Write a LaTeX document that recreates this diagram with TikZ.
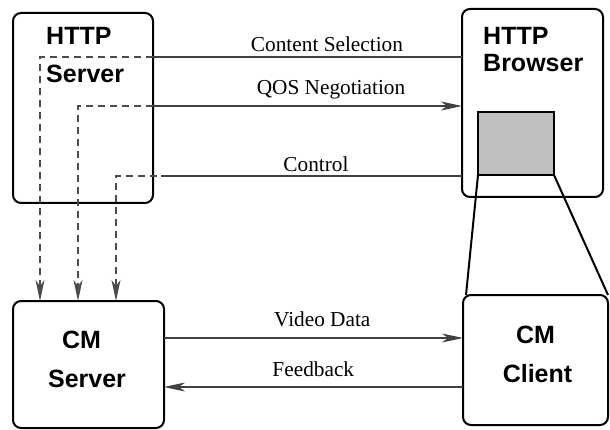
\documentclass[tikz,border=0pt]{standalone}
\usepackage{fontspec}
\setmainfont{Liberation Serif}
\newfontfamily\hvfont{Liberation Sans}
\usetikzlibrary{arrows.meta}

\tikzset{
  box/.style={draw=black, line width=2pt, rounded corners=8pt, inner sep=0pt, outer sep=0pt, fill=white},
  conn/.style={draw=black!75, line width=1.2pt},
  dashconn/.style={draw=black!70, line width=1.2pt, dash pattern=on 7pt off 5pt},
  tip/.style={-{Stealth[length=21pt, width=9pt, inset=6pt]}},
  lbl/.style={font=\fontsize{21.3}{24}\selectfont, inner sep=0pt, anchor=base},
  title/.style={font=\hvfont\bfseries\fontsize{25}{28}\selectfont, inner sep=0pt},
  zoomline/.style={draw=black, line width=2pt}
}

\begin{document}
\begin{tikzpicture}[x=1pt, y=-1pt]
  \useasboundingbox (0,0) rectangle (610,430);

  % the four components
  \node[box, minimum width=140pt, minimum height=190pt] (hs) at (83,108) {};
  \node[box, minimum width=141pt, minimum height=188pt] (hb) at (532.5,103) {};
  \node[box, minimum width=151pt, minimum height=127pt] (cs) at (88.5,364.5) {};
  \node[box, minimum width=145pt, minimum height=130pt] (cc) at (535.5,360) {};

  % embedded client window in the browser
  \node[draw=black, line width=2pt, fill=black!25, inner sep=0pt, outer sep=0pt,
        minimum width=76pt, minimum height=63pt] (gr) at (516,143.5) {};

  % projection of the window onto the CM client
  \draw[zoomline] (gr.south west) -- ([xshift=3pt]cc.north west);
  \draw[zoomline] (gr.south east) -- (cc.north east);

  % titles
  \node[title, anchor=base west] (hs1) at (46,45) {HTTP};
  \node[title, anchor=base west] (hs2) at (46,83) {Server};
  \node[title, anchor=base west] (hb1) at (483,45) {HTTP};
  \node[title, anchor=base west] (hb2) at (483,72) {Browser};
  \node[title, anchor=base] (cs1) at (81.5,348) {CM};
  \node[title, anchor=base] (cs2) at (87,387) {Server};
  \node[title, anchor=base] (cc1) at (535.5,343) {CM};
  \node[title, anchor=base] (cc2) at (537.5,382) {Client};

  % control-plane rows
  \coordinate (ysel) at (0,57);
  \coordinate (yqos) at (0,106);
  \coordinate (yctl) at (0,176);
  \coordinate (yvid) at (0,338);
  \coordinate (yfb)  at (0,387);

  \draw[conn] (hs.east |- ysel) -- (hb.west |- ysel);
  \draw[conn, tip] (hs.east |- yqos) -- (hb.west |- yqos);
  \draw[conn] (hb.west |- yctl) -- ([xshift=8pt]hs.east |- yctl);

  % forwarding to the CM server
  \coordinate (d1) at (40,301);
  \coordinate (d2) at (78,301);
  \coordinate (d3) at (116,301);
  \draw[dashconn, tip] (hs.east |- ysel) -| (d1);
  \draw[dashconn, tip] (hs.east |- yqos) -| (d2);
  \draw[dashconn, tip] ([xshift=4pt]hs.east |- yctl) -| (d3);

  % data plane
  \draw[conn, tip] (cs.east |- yvid) -- (cc.west |- yvid);
  \draw[conn, tip] (cc.west |- yfb) -- (cs.east |- yfb);

  % connector labels
  \node[lbl] (l1) at (327,51.7) {Content Selection};
  \node[lbl] (l2) at (331,95) {QOS Negotiation};
  \node[lbl] (l3) at (316,171.7) {Control};
  \node[lbl] (l4) at (322.3,326.7) {Video Data};
  \node[lbl] (l5) at (313.3,376.7) {Feedback};
\end{tikzpicture}
\end{document}
